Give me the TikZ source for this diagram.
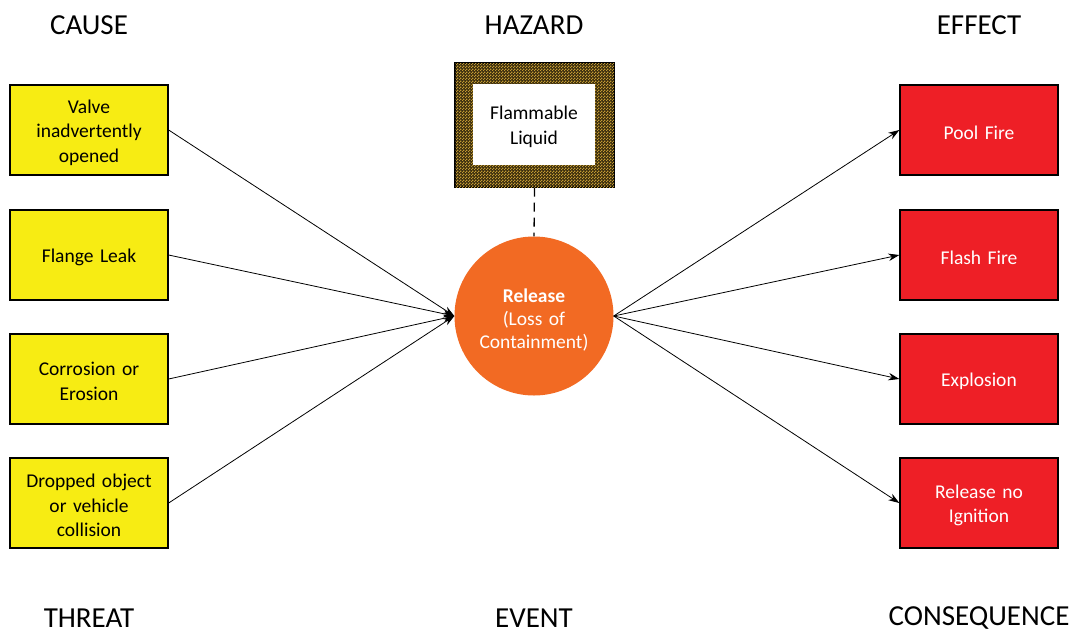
\documentclass[tikz,border=0pt]{standalone}
\usepackage{fontspec}
\setmainfont{Carlito}
\usetikzlibrary{arrows.meta,patterns}
\definecolor{causeY}{HTML}{F7EC13}
\definecolor{effectR}{HTML}{EE1F26}
\definecolor{eventO}{HTML}{F26A23}
\definecolor{hazDark}{HTML}{3A2D0E}
\definecolor{hazGold}{HTML}{C29A32}
% fine two-colour checker used for the hazard frame
\pgfdeclarepatternformonly{finecheck}{\pgfpointorigin}{\pgfpoint{3pt}{3pt}}{\pgfpoint{3pt}{3pt}}{%
  \pgfpathrectangle{\pgfpointorigin}{\pgfpoint{1.5pt}{1.5pt}}%
  \pgfpathrectangle{\pgfpoint{1.5pt}{1.5pt}}{\pgfpoint{1.5pt}{1.5pt}}%
  \pgfusepath{fill}}
\begin{document}
\begin{tikzpicture}[x=1pt,y=-1pt,
  heading/.style={font=\fontsize{29}{34}\selectfont, anchor=center},
  boxshape/.style={draw=black, line width=1.3pt, minimum width=158pt, minimum height=90pt},
  causebox/.style={boxshape, fill=causeY},
  effectbox/.style={boxshape, fill=effectR},
  boxtext/.style={align=center, text width=150pt, yshift=-2.5pt, font=\fontsize{19.5}{24.5}\selectfont},
  conn/.style={line width=0.8pt, -{Stealth[length=11pt,width=7.5pt]}}]
\useasboundingbox[fill=white] (0,0) rectangle (1079,635);

% column headings
\node[heading] (hcause) at (89,25) {CAUSE};
\node[heading] (hhazard) at (534,25) {HAZARD};
\node[heading] (heffect) at (979,25) {EFFECT};
\node[heading] (hthreat) at (89,618) {THREAT};
\node[heading] (hevent) at (534,618) {EVENT};
\node[heading] (hcons) at (979,618) {CONSEQUENCE};

% threats
\node[causebox] (c1) at (89,130) {};
\node[causebox] (c2) at (89,255) {};
\node[causebox] (c3) at (89,379) {};
\node[causebox] (c4) at (89,503) {};
\node[boxtext] (c1t) at (c1) {Valve\\inadvertently\\opened};
\node[boxtext] (c2t) at (c2) {Flange Leak};
\node[boxtext] (c3t) at (c3) {Corrosion or\\Erosion};
\node[boxtext] (c4t) at (c4) {Dropped object\\or vehicle\\collision};

% consequences
\node[effectbox] (e1) at (979,130) {};
\node[effectbox] (e2) at (979,255) {};
\node[effectbox] (e3) at (979,379) {};
\node[effectbox] (e4) at (979,503) {};
\node[boxtext, text=white] (e1t) at (e1) {Pool Fire};
\node[boxtext, text=white] (e2t) at (e2) {Flash Fire};
\node[boxtext, text=white] (e3t) at (e3) {Explosion};
\node[boxtext, text=white] (e4t) at (e4) {Release no\\Ignition};

% hazard
\node[draw=black, line width=1.3pt, fill=hazDark, minimum width=159pt, minimum height=124pt,
  postaction={pattern=finecheck, pattern color=hazGold}] (haz) at (534.5,125) {};
\node[fill=white, minimum width=122pt, minimum height=81pt] (hazin) at (534,124.5) {};
\node[boxtext, text width=115pt] (hazt) at (hazin) {Flammable\\Liquid};

% top event
\node[circle, fill=eventO, minimum size=159pt, inner sep=0pt] (ev) at (534,316) {};
\node[boxtext, text=white, yshift=-1.5pt, font=\fontsize{19.5}{23}\selectfont] (evt) at (ev)
  {\textbf{Release}\\(Loss of\\Containment)};

\draw[line width=1.3pt, dash pattern=on 9pt off 6pt] (haz.south) -- (ev.north);

% connectors
\foreach \c in {c1,c2,c3,c4}
  \draw[conn] (\c.east) -- (ev.west);
\foreach \e in {e1,e2,e3,e4}
  \draw[conn] (ev.east) -- (\e.west);
\end{tikzpicture}
\end{document}
